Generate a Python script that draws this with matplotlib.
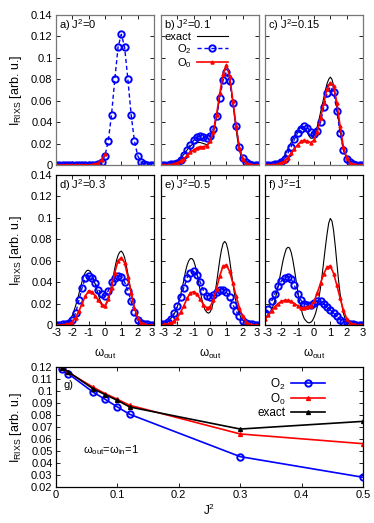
#RIXS spectra: exact vs O2 / O0 approximations, plus intensity at w=1 vs J^2
import numpy as np
import matplotlib
matplotlib.use('Agg')
import matplotlib.pyplot as plt
from matplotlib.ticker import FormatStrFormatter, MultipleLocator
from matplotlib.transforms import ScaledTranslation

plt.rcParams['font.family'] = ['Liberation Sans', 'DejaVu Sans']
plt.rcParams['mathtext.fontset'] = 'custom'
plt.rcParams['mathtext.rm'] = 'Liberation Sans'
plt.rcParams['mathtext.it'] = 'Liberation Sans:italic'
plt.rcParams['font.size'] = 8

#frequency grids (exact: 0.1 step, O2/O0: 0.2 step)
w_fine = np.round(np.linspace(-3, 3, 61), 1)
w_coarse = np.round(np.linspace(-3, 3, 31), 1)

panel_labels = ['a) J$^2$=0', 'b) J$^2$=0.1', 'c) J$^2$=0.15',
                'd) J$^2$=0.3', 'e) J$^2$=0.5', 'f) J$^2$=1']

#---- a) J^2 = 0
o2_a = [0, 0, 0, 0, 0, 0, 0, 0, 0, 0,
        0, 0, 0.0001, 0.0006, 0.0028, 0.0088, 0.0226, 0.047, 0.080, 0.110,
        0.122, 0.110, 0.080, 0.047, 0.0226, 0.0088, 0.0028, 0.0006, 0.0001, 0,
        0]
o0_a = [0, 0, 0, 0, 0, 0, 0, 0, 0, 0,
        0, 0.0003, 0.001, 0.002, 0.005, 0.010]

#---- b) J^2 = 0.1
exact_b = [0, 0, 0, 0, 0, 0.0002, 0.0004, 0.0008, 0.0013, 0.002,
           0.003, 0.0045, 0.006, 0.008, 0.010, 0.012, 0.014, 0.016, 0.0175, 0.019,
           0.020, 0.0205, 0.021, 0.021, 0.021, 0.0205, 0.020, 0.0195, 0.019, 0.0195,
           0.021, 0.025, 0.030, 0.037, 0.045, 0.054, 0.064, 0.074, 0.083, 0.090,
           0.0925, 0.090, 0.082, 0.071, 0.058, 0.045, 0.033, 0.022, 0.014, 0.008,
           0.0045, 0.0025, 0.0012, 0.0006, 0.0003, 0, 0, 0, 0, 0,
           0]
o2_b = [0, 0, 0, 0.0005, 0.001, 0.002, 0.005, 0.009, 0.014, 0.019,
        0.023, 0.026, 0.027, 0.026, 0.025, 0.027, 0.034, 0.046, 0.063, 0.079,
        0.087, 0.078, 0.058, 0.036, 0.017, 0.007, 0.003, 0.001, 0.0003, 0,
        0]
o0_b = [0, 0, 0, 0.0003, 0.001, 0.002, 0.004, 0.006, 0.009, 0.012,
        0.014, 0.016, 0.017, 0.017, 0.018, 0.022, 0.031, 0.047, 0.067, 0.085,
        0.093, 0.083, 0.060, 0.036, 0.016, 0.006, 0.002, 0.0005, 0, 0,
        0]

#---- c) J^2 = 0.15
exact_c = [0, 0, 0, 0, 0, 0.0003, 0.0006, 0.001, 0.0018, 0.003,
           0.0045, 0.0065, 0.009, 0.012, 0.015, 0.018, 0.021, 0.024, 0.027, 0.030,
           0.032, 0.034, 0.035, 0.035, 0.035, 0.033, 0.030, 0.027, 0.025, 0.025,
           0.027, 0.031, 0.036, 0.042, 0.049, 0.056, 0.063, 0.070, 0.076, 0.080,
           0.082, 0.080, 0.074, 0.065, 0.054, 0.043, 0.032, 0.023, 0.015, 0.010,
           0.006, 0.0035, 0.002, 0.001, 0.0005, 0.0002, 0, 0, 0, 0,
           0]
o2_c = [0, 0, 0, 0.0005, 0.001, 0.003, 0.006, 0.011, 0.017, 0.024,
        0.030, 0.034, 0.036, 0.035, 0.031, 0.029, 0.032, 0.040, 0.054, 0.067,
        0.073, 0.068, 0.050, 0.030, 0.014, 0.006, 0.003, 0.001, 0.0003, 0,
        0]
o0_c = [0, 0, 0, 0.0003, 0.001, 0.002, 0.004, 0.007, 0.011, 0.015,
        0.019, 0.022, 0.023, 0.022, 0.021, 0.023, 0.031, 0.044, 0.058, 0.071,
        0.077, 0.074, 0.058, 0.036, 0.017, 0.007, 0.002, 0.001, 0, 0,
        0]

#---- d) J^2 = 0.3
exact_d = [0, 0, 0.0002, 0.0004, 0.0007, 0.001, 0.0016, 0.0025, 0.004, 0.006,
           0.009, 0.013, 0.018, 0.023, 0.029, 0.035, 0.041, 0.046, 0.049, 0.051,
           0.051, 0.050, 0.047, 0.043, 0.038, 0.033, 0.028, 0.023, 0.020, 0.018,
           0.018, 0.020, 0.024, 0.030, 0.037, 0.045, 0.053, 0.060, 0.065, 0.068,
           0.069, 0.067, 0.063, 0.056, 0.048, 0.039, 0.031, 0.023, 0.016, 0.011,
           0.007, 0.004, 0.0025, 0.0015, 0.0008, 0.0004, 0.0002, 0, 0, 0,
           0]
o2_d = [0, 0, 0.0005, 0.001, 0.002, 0.005, 0.011, 0.023, 0.035, 0.044,
        0.046, 0.044, 0.039, 0.033, 0.029, 0.027, 0.032, 0.040, 0.044, 0.046,
        0.045, 0.040, 0.032, 0.022, 0.012, 0.005, 0.002, 0.001, 0.0005, 0,
        0]
o0_d = [0, 0, 0.0002, 0.0005, 0.001, 0.003, 0.007, 0.013, 0.020, 0.027,
        0.032, 0.031, 0.027, 0.023, 0.019, 0.018, 0.024, 0.035, 0.049, 0.060,
        0.063, 0.058, 0.045, 0.030, 0.016, 0.007, 0.002, 0.001, 0, 0,
        0]

#---- e) J^2 = 0.5
exact_e = [0.0005, 0.001, 0.0015, 0.002, 0.003, 0.004, 0.006, 0.008, 0.010, 0.013,
           0.017, 0.022, 0.028, 0.035, 0.042, 0.050, 0.056, 0.060, 0.062, 0.062,
           0.060, 0.055, 0.048, 0.040, 0.032, 0.024, 0.018, 0.014, 0.012, 0.011,
           0.012, 0.015, 0.021, 0.029, 0.039, 0.050, 0.061, 0.070, 0.076, 0.078,
           0.076, 0.070, 0.061, 0.050, 0.039, 0.029, 0.021, 0.015, 0.010, 0.007,
           0.005, 0.003, 0.002, 0.001, 0.0006, 0.0003, 0, 0, 0, 0,
           0]
o2_e = [0.001, 0.001, 0.003, 0.006, 0.011, 0.018, 0.026, 0.035, 0.044, 0.049,
        0.050, 0.047, 0.040, 0.032, 0.027, 0.026, 0.028, 0.031, 0.033, 0.033,
        0.031, 0.026, 0.019, 0.013, 0.008, 0.004, 0.002, 0.001, 0.0005, 0,
        0]
o0_e = [0, 0.0005, 0.001, 0.002, 0.004, 0.007, 0.012, 0.018, 0.025, 0.030,
        0.031, 0.029, 0.024, 0.019, 0.016, 0.017, 0.023, 0.034, 0.046, 0.055,
        0.056, 0.050, 0.039, 0.027, 0.016, 0.008, 0.003, 0.001, 0, 0,
        0]

#---- f) J^2 = 1
exact_f = [0.006, 0.007, 0.009, 0.011, 0.014, 0.018, 0.023, 0.029, 0.036, 0.044,
           0.052, 0.060, 0.066, 0.071, 0.0725, 0.072, 0.068, 0.061, 0.052, 0.042,
           0.032, 0.023, 0.016, 0.010, 0.006, 0.004, 0.0025, 0.002, 0.0025, 0.004,
           0.007, 0.011, 0.017, 0.025, 0.035, 0.047, 0.060, 0.073, 0.085, 0.095,
           0.0995, 0.097, 0.088, 0.074, 0.058, 0.042, 0.029, 0.019, 0.011, 0.006,
           0.003, 0.0015, 0.0007, 0.0003, 0, 0, 0, 0, 0, 0,
           0]
o2_f = [0.011, 0.015, 0.022, 0.029, 0.036, 0.041, 0.044, 0.045, 0.043, 0.037,
        0.029, 0.023, 0.020, 0.019, 0.019, 0.021, 0.022, 0.022, 0.020, 0.017,
        0.014, 0.011, 0.008, 0.005, 0.003, 0.002, 0.001, 0.0005, 0, 0,
        0]
o0_f = [0.006, 0.009, 0.013, 0.017, 0.020, 0.022, 0.023, 0.023, 0.022, 0.020,
        0.018, 0.016, 0.016, 0.017, 0.018, 0.022, 0.030, 0.039, 0.048, 0.054,
        0.055, 0.048, 0.037, 0.025, 0.014, 0.006, 0.002, 0.001, 0, 0,
        0]

#---- g) intensity at w_out = w_in = 1 vs J^2
J2 = [0.01, 0.02, 0.06, 0.08, 0.1, 0.12, 0.3, 0.5]
g_o2 = [0.1186, 0.1144, 0.0992, 0.0931, 0.0867, 0.0806, 0.0453, 0.0281]
g_o0 = [0.119, 0.1155, 0.1033, 0.0978, 0.0931, 0.0881, 0.0642, 0.0561]
g_exact = [0.1194, 0.116, 0.102, 0.097, 0.0922, 0.0867, 0.0683, 0.0747]

exacts = [None, exact_b, exact_c, exact_d, exact_e, exact_f]
o2s = [o2_a, o2_b, o2_c, o2_d, o2_e, o2_f]
o0s = [o0_a, o0_b, o0_c, o0_d, o0_e, o0_f]

W, H = 374, 523
fig = plt.figure(figsize=(W/100, H/100), dpi=100)

def rect(x0, y0, x1, y1):
    #pixel box -> figure fraction
    return [x0/W, 1 - y1/H, (x1 - x0)/W, (y1 - y0)/H]

lefts = [56, 161, 265]
tops = [15, 175]
ylab = 'I$_{\\rm RIXS}$ [arb. u.]'
nudge = 2.4/100   #inches, to keep "3" and "-3" of neighbours apart

for k in range(6):
    r, c = divmod(k, 3)
    ax = fig.add_axes(rect(lefts[c], tops[r], lefts[c] + 98, tops[r] + 150))
    if exacts[k] is not None:
        ax.plot(w_fine, exacts[k], color='k', lw=0.8, label='exact')
    ax.plot(w_coarse, o2s[k], color='b', ls='--', lw=1.0, marker='o', ms=4.6,
            mfc='none', mew=1.4, dashes=(3, 2), label='O$_2$')
    ax.plot(w_coarse[:len(o0s[k])], o0s[k], color='r', lw=1.2, marker='^',
            ms=2.2, label='O$_0$')
    ax.set_xlim(-3, 3)
    ax.set_ylim(0, 0.14)
    ax.xaxis.set_major_locator(MultipleLocator(1))
    ax.xaxis.set_major_formatter(FormatStrFormatter('%g'))
    ax.yaxis.set_major_locator(MultipleLocator(0.02))
    ax.yaxis.set_major_formatter(FormatStrFormatter('%g'))
    ax.tick_params(direction='in', top=True, right=True, length=3, width=0.6,
                   pad=2.5)
    frame = '#777777' if r == 0 else 'black'
    for s in ax.spines.values():
        s.set_color(frame)
        s.set_linewidth(0.9)
    if r == 0:
        ax.tick_params(labelbottom=False)
    else:
        ax.set_xlabel('ω$_{\\rm out}$', labelpad=6, fontsize=8.5)
        ticks = [t for t in ax.xaxis.get_major_ticks()]
        locs = ax.xaxis.get_majorticklocs()
        for t, loc in zip(ticks, locs):
            if c > 0 and np.isclose(loc, -3):
                t.label1.set_transform(t.label1.get_transform() +
                                       ScaledTranslation(nudge, 0, fig.dpi_scale_trans))
            if c < 2 and np.isclose(loc, 3):
                t.label1.set_transform(t.label1.get_transform() +
                                       ScaledTranslation(-nudge, 0, fig.dpi_scale_trans))
    if c > 0:
        ax.tick_params(labelleft=False)
    else:
        ax.set_ylabel(ylab, labelpad=5, fontsize=9)
    ax.text(0.03, 0.985, panel_labels[k], transform=ax.transAxes,
            ha='left', va='top')
    if k == 1:
        ax.legend(loc='upper left', bbox_to_anchor=(-0.01, 0.915),
                  markerfirst=False, frameon=False, handlelength=2.8,
                  handletextpad=0.5, labelspacing=0.0, borderaxespad=0.0)

#bottom panel
ax = fig.add_axes(rect(56, 367, 363, 487))
ax.plot(J2, g_o2, color='b', lw=1.2, marker='o', ms=4.6, mfc='none', mew=1.4,
        label='O$_2$')
ax.plot(J2, g_o0, color='r', lw=1.2, marker='^', ms=2.8, label='O$_0$')
ax.plot(J2, g_exact, color='k', lw=1.2, marker='^', ms=2.8, label='exact')
ax.set_xlim(0, 0.5)
ax.set_ylim(0.02, 0.12)
ax.xaxis.set_major_locator(MultipleLocator(0.1))
ax.yaxis.set_major_locator(MultipleLocator(0.01))
ax.yaxis.set_major_formatter(FormatStrFormatter('%g'))
ax.xaxis.set_major_formatter(FormatStrFormatter('%g'))
ax.tick_params(direction='in', top=True, right=True, length=3, width=0.6, pad=2.5)
for s in ax.spines.values():
    s.set_linewidth(0.9)
ax.set_xlabel('J$^2$', labelpad=2, fontsize=8.5)
ax.set_ylabel(ylab, labelpad=5, fontsize=9)
ax.text(0.013, 0.1047, 'g)', ha='left', va='center')
ax.text(0.044, 0.0506, 'ω$_{\\rm out}$=ω$_{\\rm in}$=1', ha='left', va='center')
ax.legend(loc='upper right', bbox_to_anchor=(0.89, 0.96), markerfirst=False,
          frameon=False, handlelength=2.8, handletextpad=0.5, labelspacing=0.0,
          borderaxespad=0.0, fontsize=8.5)

fig.savefig('out.png', dpi=100)
